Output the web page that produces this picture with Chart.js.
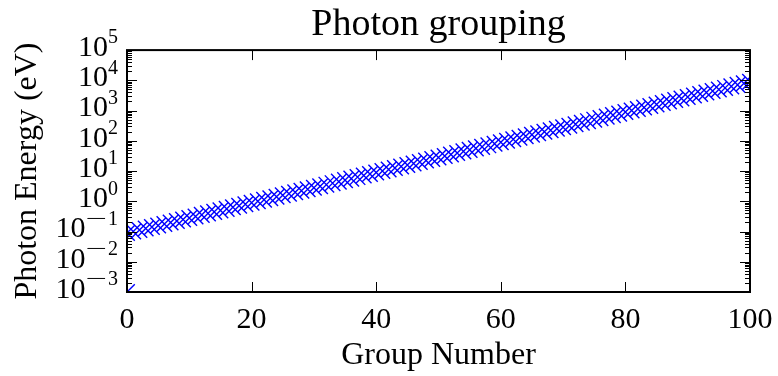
<!DOCTYPE html>
<html lang="en">
<head>
<meta charset="UTF-8">
<title>Photon grouping</title>
<script src="https://cdn.jsdelivr.net/npm/chart.js"></script>
<style>
  html, body { margin: 0; padding: 0; background: #fff; }
  .chart-box { width: 778px; height: 376px; position: relative; }
</style>
</head>
<body>
<div class="chart-box"><canvas id="groupChart"></canvas></div>
<script>
// group index (x)
const groupNumbers = [
  0, 1, 2, 3, 4, 5, 6, 7, 8, 9, 10, 11, 12, 13, 14, 15, 16, 17, 18, 19, 20,
  21, 22, 23, 24, 25, 26, 27, 28, 29, 30, 31, 32, 33, 34, 35, 36, 37, 38, 39, 40,
  41, 42, 43, 44, 45, 46, 47, 48, 49, 50, 51, 52, 53, 54, 55, 56, 57, 58, 59, 60,
  61, 62, 63, 64, 65, 66, 67, 68, 69, 70, 71, 72, 73, 74, 75, 76, 77, 78, 79, 80,
  81, 82, 83, 84, 85, 86, 87, 88, 89, 90, 91, 92, 93, 94, 95, 96, 97, 98, 99, 100
];
// photon energy per group (eV)
const photonEnergy = [
  0.0891,
  0.1, 0.112, 0.126, 0.141, 0.158, 0.178, 0.2, 0.224, 0.251, 0.282,
  0.316, 0.355, 0.398, 0.447, 0.501, 0.562, 0.631, 0.708, 0.794, 0.891,
  1, 1.12, 1.26, 1.41, 1.58, 1.78, 2, 2.24, 2.51, 2.82,
  3.16, 3.55, 3.98, 4.47, 5.01, 5.62, 6.31, 7.08, 7.94, 8.91,
  10, 11.2, 12.6, 14.1, 15.8, 17.8, 20, 22.4, 25.1, 28.2,
  31.6, 35.5, 39.8, 44.7, 50.1, 56.2, 63.1, 70.8, 79.4, 89.1,
  100, 112, 126, 141, 158, 178, 200, 224, 251, 282,
  316, 355, 398, 447, 501, 562, 631, 708, 794, 891,
  1000, 1120, 1260, 1410, 1580, 1780, 2000, 2240, 2510, 2820,
  3160, 3550, 3980, 4470, 5010, 5620, 6310, 7080, 7940, 8910
];
// the lone marker sitting in the lower-left corner
const cornerGroup = [0];
const cornerEnergy = [0.001];

const xTicks = [0, 20, 40, 60, 80, 100];
const yExponents = [-3, -2, -1, 0, 1, 2, 3, 4, 5];

const serif = "'Liberation Serif', 'DejaVu Serif', serif";

// frame, inward ticks on all four sides and 10^n labels
const frameAndTicks = {
  id: 'frameAndTicks',
  afterDatasetsDraw(chart) {
    const { ctx, chartArea: a, scales: { x, y } } = chart;
    ctx.save();
    ctx.strokeStyle = '#000';
    ctx.lineWidth = 1;
    const seg = (x1, y1, x2, y2) => {
      ctx.beginPath(); ctx.moveTo(x1, y1); ctx.lineTo(x2, y2); ctx.stroke();
    };

    xTicks.forEach(v => {
      const px = Math.round(x.getPixelForValue(v)) + 0.5;
      seg(px, a.bottom, px, a.bottom - 10);
      seg(px, a.top, px, a.top + 10);
    });

    yExponents.forEach((e, i) => {
      const py = Math.round(y.getPixelForValue(Math.pow(10, e))) + 0.5;
      seg(a.left, py, a.left + 10, py);
      seg(a.right, py, a.right - 10, py);
      if (i < yExponents.length - 1) {
        for (let m = 2; m <= 9; m++) {
          const pm = Math.round(y.getPixelForValue(m * Math.pow(10, e))) + 0.5;
          seg(a.left, pm, a.left + 5, pm);
          seg(a.right, pm, a.right - 5, pm);
        }
      }
    });

    ctx.lineWidth = 2;
    ctx.strokeRect(a.left, a.top, a.right - a.left, a.bottom - a.top);

    // y tick labels with superscript exponents
    ctx.fillStyle = '#000';
    ctx.textBaseline = 'middle';
    const rightEdge = a.left - 9;
    yExponents.forEach(e => {
      const py = y.getPixelForValue(Math.pow(10, e));
      const digits = String(Math.abs(e));
      ctx.font = '20px ' + serif;
      ctx.textAlign = 'left';
      let start = rightEdge - ctx.measureText(digits).width;
      ctx.fillText(digits, start, py - 12);
      if (e < 0) {
        // wide math-style minus
        const mw = ctx.measureText('\u2212').width * 1.9;
        start -= mw + 1;
        ctx.save();
        ctx.translate(start, py - 12);
        ctx.scale(1.9, 1);
        ctx.fillText('\u2212', 0, 0);
        ctx.restore();
      }
      ctx.font = '30px ' + serif;
      ctx.textAlign = 'right';
      ctx.fillText('10', start, py - 2);
    });
    ctx.restore();
  }
};

const markerStyle = {
  pointStyle: 'crossRot',
  pointRadius: 11,
  pointHoverRadius: 11,
  borderColor: '#0000ff',
  backgroundColor: '#0000ff',
  borderWidth: 1.4,
  showLine: false
};

new Chart(document.getElementById('groupChart').getContext('2d'), {
  type: 'scatter',
  data: {
    datasets: [
      Object.assign({ data: groupNumbers.map((g, i) => ({ x: g, y: photonEnergy[i] })) }, markerStyle),
      Object.assign({ data: cornerGroup.map((g, i) => ({ x: g, y: cornerEnergy[i] })) }, markerStyle)
    ]
  },
  options: {
    responsive: true,
    maintainAspectRatio: false,
    animation: false,
    layout: { padding: { left: 0, right: 28, top: 0, bottom: 0 } },
    plugins: {
      legend: { display: false },
      tooltip: { enabled: false },
      title: {
        display: true,
        fullSize: false,
        text: 'Photon grouping',
        color: '#000',
        font: { family: serif, size: 38, weight: 'normal' },
        padding: { top: 2.5, bottom: 2 }
      }
    },
    scales: {
      x: {
        type: 'linear',
        min: 0,
        max: 100,
        grid: { display: false },
        border: { display: false },
        ticks: {
          stepSize: 20,
          color: '#000',
          padding: 2,
          maxRotation: 0,
          font: { family: serif, size: 30 }
        },
        title: {
          display: true,
          text: 'Group Number',
          color: '#000',
          font: { family: serif, size: 32 },
          padding: { top: 1, bottom: 1 }
        },
        afterFit(scale) { scale.height = 84; }
      },
      y: {
        type: 'logarithmic',
        min: 0.001,
        max: 100000,
        grid: { display: false },
        border: { display: false },
        ticks: { display: false },
        title: {
          display: true,
          text: 'Photon Energy (eV)',
          color: '#000',
          font: { family: serif, size: 32 },
          padding: { top: 8, bottom: 8 }
        },
        afterFit(scale) { scale.width = 127; }
      }
    }
  },
  plugins: [frameAndTicks]
});
</script>
</body>
</html>
